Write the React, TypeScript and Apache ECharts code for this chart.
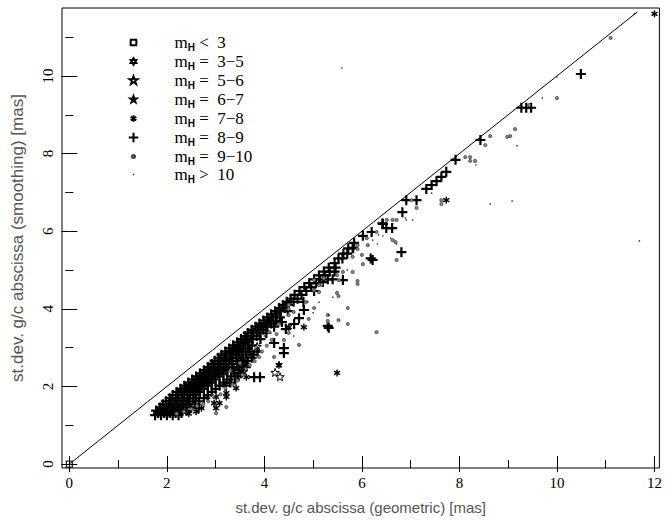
import React, { useEffect, useRef } from "react";
import * as echarts from "echarts";

// ---------- axis ticks ----------
const xMajorTicks = [0, 2, 4, 6, 8, 10, 12];
const xMinorTicks = [1, 3, 5, 7, 9, 11];
const yMajorTicks = [0, 2, 4, 6, 8, 10];
const yMinorTicks = [1, 3, 5, 7, 9, 11];

// ---------- legend / series names ----------
const seriesNames = ["m_H < 3", "m_H = 3-5", "m_H = 5-6", "m_H = 6-7", "m_H = 7-8", "m_H = 8-9", "m_H = 9-10", "m_H > 10"];
const legendSuffixes = ["<  3", "=  3−5", "=  5−6", "=  6−7", "=  7−8", "=  8−9", "=  9−10", ">  10"];

// ---------- one-to-one line ----------
const diagonalEnds = [[0, 0], [11.65, 11.65]];

// ---------- data ----------
const brightest = [[0.0, 0.0]];
const mag3to5 = [[2.63, 1.57]];
const mag5to6 = [[4.22, 2.35], [4.32, 2.24], [3.85, 3.02]];
const mag6to7 = [[4.30, 2.56]];
const mag7to8 = [
  [2.71, 1.44], [3.01, 1.44], [2.83, 1.73], [3.01, 1.73], [3.22, 1.83], [3.22, 1.73], [3.42, 1.96],
  [3.63, 2.24], [4.30, 2.55], [4.50, 3.53], [4.81, 3.53], [5.49, 2.35], [7.73, 6.80], [12.0, 11.6],
  [2.45, 1.30], [2.60, 1.35], [2.97, 1.57], [3.08, 1.57],
];
// dense band of m_H = 8-9 stars: [y, x values]
const mag8to9Rows: [number, number[]][] = [
  [1.26, [1.76, 1.88, 2.00, 2.12, 2.24]],
  [1.32, [1.82, 1.94, 2.06, 2.18, 2.30]],
  [1.38, [1.78, 1.90, 2.02, 2.14, 2.26, 2.40]],
  [1.46, [1.86, 1.98, 2.10, 2.22, 2.34, 2.50]],
  [1.54, [1.92, 2.04, 2.16, 2.28, 2.40, 2.58]],
  [1.62, [1.98, 2.10, 2.22, 2.34, 2.46, 2.66]],
  [1.70, [2.06, 2.18, 2.30, 2.42, 2.54, 2.76]],
  [1.78, [2.12, 2.24, 2.36, 2.48, 2.60, 2.84]],
  [1.86, [2.20, 2.32, 2.44, 2.56, 2.68, 2.92]],
  [1.94, [2.28, 2.40, 2.52, 2.64, 2.76, 3.00]],
  [2.02, [2.36, 2.48, 2.60, 2.72, 2.84, 3.08, 3.20]],
  [2.10, [2.44, 2.56, 2.68, 2.80, 2.92, 3.16, 3.30]],
  [2.18, [2.52, 2.64, 2.76, 2.88, 3.00, 3.24, 3.40]],
  [2.26, [2.60, 2.72, 2.84, 2.96, 3.08, 3.32, 3.46]],
  [2.34, [2.68, 2.80, 2.92, 3.04, 3.16, 3.40, 3.52]],
  [2.42, [2.76, 2.88, 3.00, 3.12, 3.24, 3.38, 3.56]],
  [2.50, [2.84, 2.96, 3.08, 3.20, 3.34, 3.48, 3.62]],
  [2.58, [2.92, 3.04, 3.16, 3.28, 3.44, 3.58]],
  [2.66, [2.98, 3.10, 3.22, 3.34, 3.52, 3.66]],
  [2.74, [3.06, 3.18, 3.30, 3.42, 3.56, 3.74]],
  [2.82, [3.12, 3.24, 3.36, 3.48, 3.62, 3.78]],
  [2.90, [3.20, 3.32, 3.44, 3.56, 3.70, 3.86]],
  [2.98, [3.28, 3.40, 3.52, 3.66]],
  [3.06, [3.36, 3.48, 3.60, 3.74]],
  [3.14, [3.44, 3.56, 3.68]],
  [3.22, [3.52, 3.64, 3.76, 3.92]],
  [3.30, [3.60, 3.72, 3.84]],
  [3.38, [3.66, 3.78, 3.90, 4.04]],
  [3.46, [3.74, 3.86, 3.98]],
  [3.54, [3.82, 3.94, 4.06, 4.20]],
  [3.62, [3.90, 4.02, 4.14]],
  [3.70, [3.98, 4.10, 4.24]],
  [3.78, [4.06, 4.18, 4.32]],
  [3.86, [4.14, 4.26]],
  [3.94, [4.22, 4.34, 4.48]],
  [4.02, [4.30, 4.42]],
  [4.10, [4.38, 4.50]],
  [4.18, [4.46, 4.60, 4.80]],
  [4.26, [4.54, 4.68]],
  [4.36, [4.62, 4.76]],
  [4.46, [4.72, 4.86, 5.02]],
  [4.56, [4.82, 4.96]],
  [4.66, [4.92, 5.06]],
  [4.76, [5.02, 5.14, 5.30, 5.40]],
  [4.86, [5.12, 5.24]],
  [4.96, [5.22, 5.34, 5.44]],
  [5.06, [5.32, 5.46]],
  [5.18, [5.44]],
  [5.30, [5.52, 5.60, 6.18]],
  [5.42, [5.62, 5.70]],
  [5.56, [5.72, 5.82]],
  [5.70, [5.84]],
  [5.88, [6.02]],
  [5.98, [6.20]],
  [6.08, [6.50, 6.62]],
  [6.20, [6.42]],
];
const mag8to9Sparse = [
  [4.40, 2.99], [4.40, 2.86], [4.20, 3.12], [4.71, 3.76], [5.30, 3.56], [5.32, 3.51], [3.91, 2.24],
  [3.79, 2.24], [2.65, 1.44], [4.81, 3.97], [4.36, 3.66], [4.61, 3.61], [4.44, 3.48], [5.61, 4.74],
  [5.20, 4.69], [5.81, 5.57], [6.81, 5.46], [6.22, 5.26], [6.43, 6.19], [6.83, 6.49], [6.91, 6.80],
  [7.12, 6.80], [7.32, 7.09], [7.43, 7.19], [7.53, 7.29], [7.63, 7.40], [7.73, 7.53], [7.92, 7.84],
  [8.43, 8.35], [9.27, 9.18], [9.37, 9.18], [9.47, 9.18], [10.49, 10.05],
];
const mag9to10 = [
  [2.20, 1.30], [2.35, 1.35], [2.50, 1.42], [2.62, 1.50], [2.75, 1.55], [2.85, 1.62], [3.01, 1.31],
  [3.22, 1.47], [2.95, 1.75], [3.10, 1.80], [3.20, 1.95], [3.35, 2.05], [3.45, 2.15], [3.55, 2.30],
  [3.62, 2.45], [3.70, 2.55], [3.80, 2.65], [3.89, 2.76], [4.20, 2.76], [3.95, 2.90], [4.05, 3.05],
  [4.15, 3.20], [4.25, 3.35], [4.50, 3.38], [4.71, 3.07], [4.40, 3.20], [4.50, 3.84], [4.60, 3.92],
  [4.91, 3.74], [5.02, 4.02], [5.30, 3.69], [5.30, 3.84], [4.50, 4.10], [4.50, 4.00], [4.85, 4.17],
  [5.02, 4.48], [5.12, 4.43], [5.17, 4.62], [5.22, 4.79], [5.49, 4.87], [5.53, 4.74], [5.49, 4.41],
  [5.02, 4.74], [5.12, 4.61], [5.61, 4.95], [5.81, 4.95], [5.91, 4.72], [5.91, 4.64], [5.52, 4.33],
  [5.71, 4.02], [5.71, 3.61], [5.52, 3.71], [6.30, 3.40], [5.81, 5.34], [5.91, 5.64], [5.91, 5.54],
  [6.00, 5.39], [6.02, 5.15], [6.10, 5.82], [6.12, 5.64], [6.30, 5.98], [6.63, 5.77], [6.69, 5.72],
  [6.71, 5.26], [6.51, 6.29], [6.63, 6.29], [6.71, 6.29], [7.02, 6.80], [7.12, 6.60], [7.63, 6.80],
  [7.63, 6.70], [8.12, 7.91], [8.22, 7.91], [8.22, 7.81], [8.32, 7.81], [8.53, 8.22], [8.63, 8.45],
  [9.04, 8.45], [9.14, 8.63], [8.98, 8.43], [9.43, 9.25], [10.0, 9.43], [11.10, 10.98], [4.30, 3.60],
  [4.10, 3.40], [3.30, 2.40], [3.50, 2.60],
];
const faintest = [
  [5.59, 10.20], [10.0, 9.97], [9.70, 9.43], [9.18, 8.20], [9.08, 6.78], [8.63, 6.70], [11.69, 5.75],
  [11.59, 11.6], [8.34, 7.71], [7.43, 6.98], [6.91, 6.29], [7.04, 6.29], [6.43, 5.88], [6.34, 5.90],
  [6.22, 5.77], [6.32, 5.67], [6.71, 5.67], [6.59, 5.82], [6.89, 6.34], [5.32, 3.84], [5.12, 4.17],
  [3.60, 2.60], [3.90, 3.10], [4.00, 3.30], [3.20, 2.30], [2.90, 2.00], [4.60, 3.30], [5.00, 3.90],
  [5.40, 4.30], [5.70, 5.00],
];

const mag8to9 = [
  ...mag8to9Rows.flatMap(([y, xs]) => xs.map((x) => [x, y])),
  ...mag8to9Sparse,
];
const seriesData = [brightest, mag3to5, mag5to6, mag6to7, mag7to8, mag8to9, mag9to10, faintest];

// ---------- symbols (drawn in a common 20x20 box) ----------
const BOX = "M0,0 M20,20 ";
const symbolPaths = [
  BOX + "M6.2,7 L13.8,7 M6.2,13 L13.8,13 M7,7 L7,13 M13,7 L13,13",
  BOX + "M10,6.6 L13,11.6 L7,11.6 Z M10,13.4 L13,8.4 L7,8.4 Z",
  BOX + "M10,5.5 L11.06,8.54 L14.28,8.61 L11.71,10.56 L12.65,13.64 L10,11.8 L7.35,13.64 L8.29,10.56 L5.72,8.61 L8.94,8.54 Z",
  BOX + "M10,6.5 L10.82,8.87 L13.33,8.92 L11.33,10.43 L12.06,12.83 L10,11.4 L7.94,12.83 L8.67,10.43 L6.67,8.92 L9.18,8.87 Z",
  BOX + "M10,6.5 L10,13.5 M6.97,8.25 L13.03,11.75 M6.97,11.75 L13.03,8.25",
  BOX + "M5,10 L15,10 M10,5 L10,15",
  BOX + "M11.6,10 A1.6,1.6 0 1 1 8.4,10 A1.6,1.6 0 1 1 11.6,10 Z",
  BOX + "M9.3,9.3 L10.7,9.3 L10.7,10.7 L9.3,10.7 Z",
];
const symbolStyles = [
  { color: "#fff", borderColor: "#000", borderWidth: 1 },
  { color: "#fff", borderColor: "#000", borderWidth: 1 },
  { color: "#fff", borderColor: "#000", borderWidth: 1 },
  { color: "#000", borderColor: "#000", borderWidth: 0.8 },
  { color: "#000", borderColor: "#000", borderWidth: 1.4 },
  { color: "#000", borderColor: "#000", borderWidth: 2.2 },
  { color: "#8a8a8a", borderColor: "#444", borderWidth: 0.8 },
  { color: "#222", borderColor: "#222", borderWidth: 0 },
];

const SERIF = "'Liberation Serif', 'DejaVu Serif', serif";
const SANS = "'Liberation Sans', Arial, sans-serif";
const X_MIN = -0.15, X_MAX = 12.1, Y_MIN = -0.1, Y_MAX = 11.75;

export default function App() {
  const ref = useRef<HTMLDivElement>(null);
  useEffect(() => {
    if (!ref.current) return;
    const chart = echarts.init(ref.current, null, { renderer: "svg" });

    const xBase = { type: "value", min: X_MIN, max: X_MAX, axisLine: { show: false }, splitLine: { show: false } };
    const yBase = { type: "value", min: Y_MIN, max: Y_MAX, axisLine: { show: false }, splitLine: { show: false } };
    const tick = (vals: number[], len: number) => ({
      show: true, inside: true, length: len, customValues: vals, lineStyle: { color: "#000", width: 1 },
    });

    const scatterSeries = seriesNames.map((name, i) => ({
      name,
      type: "scatter",
      xAxisIndex: 0,
      yAxisIndex: 0,
      data: seriesData[i],
      symbol: "path://" + symbolPaths[i],
      symbolSize: 20,
      symbolKeepAspect: true,
      itemStyle: { ...symbolStyles[i], opacity: 1 },
      emphasis: { disabled: true },
      silent: true,
      z: 3,
    }));

    chart.setOption({
      animation: false,
      backgroundColor: "#fff",
      grid: { left: 62, right: 3, top: 8, bottom: 54, show: true, borderColor: "#000", borderWidth: 1, backgroundColor: "transparent" },
      legend: {
        data: seriesNames,
        orient: "vertical",
        left: 118,
        top: 27,
        itemWidth: 20,
        itemHeight: 19,
        itemGap: -2,
        selectedMode: false,
        formatter: (name: string) => {
          const i = seriesNames.indexOf(name);
          return `{sp|}{m|m}{h|H}{t| ${legendSuffixes[i]}}`;
        },
        textStyle: {
          rich: {
            sp: { width: 26 },
            m: { fontFamily: SERIF, fontSize: 17, lineHeight: 19, color: "#000" },
            h: { fontFamily: SANS, fontWeight: "bold", fontSize: 10, lineHeight: 10, verticalAlign: "bottom", color: "#000" },
            t: { fontFamily: SERIF, fontSize: 17, lineHeight: 19, color: "#000", whiteSpace: "pre" },
          },
        },
      },
      xAxis: [
        {
          ...xBase, position: "bottom",
          axisTick: tick(xMajorTicks, 8),
          axisLabel: { customValues: xMajorTicks, margin: 7, fontFamily: SERIF, fontSize: 15, color: "#000" },
          name: "st.dev. g/c abscissa (geometric) [mas]",
          nameLocation: "middle",
          nameGap: 32,
          nameTextStyle: { fontFamily: SANS, fontSize: 15, color: "#555" },
        },
        { ...xBase, position: "bottom", axisTick: tick(xMinorTicks, 4), axisLabel: { show: false } },
        { ...xBase, position: "top", axisTick: tick(xMajorTicks, 8), axisLabel: { show: false } },
        { ...xBase, position: "top", axisTick: tick(xMinorTicks, 4), axisLabel: { show: false } },
      ],
      yAxis: [
        {
          ...yBase, position: "left",
          axisTick: tick(yMajorTicks, 8),
          axisLabel: { customValues: yMajorTicks, rotate: 90, margin: 7, fontFamily: SERIF, fontSize: 15, color: "#000" },
          name: "st.dev. g/c abscissa (smoothing) [mas]",
          nameLocation: "middle",
          nameGap: 36,
          nameTextStyle: { fontFamily: SANS, fontSize: 17, color: "#555" },
        },
        { ...yBase, position: "left", axisTick: tick(yMinorTicks, 4), axisLabel: { show: false } },
        { ...yBase, position: "right", axisTick: tick(yMajorTicks, 8), axisLabel: { show: false } },
        { ...yBase, position: "right", axisTick: tick(yMinorTicks, 4), axisLabel: { show: false } },
      ],
      series: [
        {
          name: "one-to-one",
          type: "line",
          xAxisIndex: 0,
          yAxisIndex: 0,
          data: diagonalEnds,
          showSymbol: false,
          symbol: "none",
          lineStyle: { color: "#000", width: 1 },
          silent: true,
          z: 2,
        },
        ...scatterSeries,
      ],
    });
    return () => chart.dispose();
  }, []);
  return <div ref={ref} style={{ position: "absolute", left: 0, top: 0, width: 665, height: 522 }} />;
}
